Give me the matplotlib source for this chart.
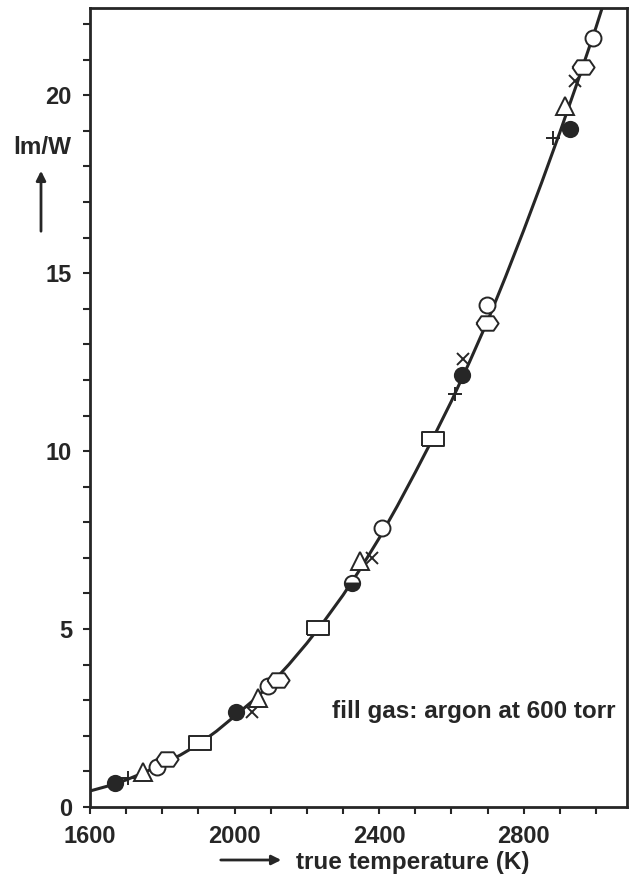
import numpy as np
import matplotlib
matplotlib.use('Agg')
import matplotlib.pyplot as plt
from matplotlib.ticker import MultipleLocator

# Efficacy curve (every 50 K)
curve_T = [1600, 1650, 1700, 1750, 1800, 1850, 1900, 1950, 2000, 2050,
           2100, 2150, 2200, 2250, 2300, 2350, 2400, 2450, 2500, 2550,
           2600, 2650, 2700, 2750, 2800, 2850, 2900, 2950, 3000, 3025]
curve_lm = [0.45, 0.59, 0.76, 0.97, 1.2, 1.46, 1.76, 2.13, 2.55, 2.98,
            3.45, 4.0, 4.6, 5.25, 5.95, 6.72, 7.55, 8.45, 9.4, 10.38,
            11.4, 12.5, 13.65, 14.9, 16.2, 17.55, 18.95, 20.4, 21.9, 22.7]

# Measured points, one list per symbol
dot_T = [1669, 2004, 2630, 2929]
dot_lm = [0.67, 2.66, 12.13, 19.05]
half_T = [2325]
half_lm = [6.3]
plus_T = [1705, 2610, 2882]
plus_lm = [0.81, 11.6, 18.8]
cross_T = [2048, 2380, 2633, 2942]
cross_lm = [2.66, 7.0, 12.6, 20.4]
tri_T = [1747, 2065, 2347, 2915]
tri_lm = [0.98, 3.05, 6.92, 19.7]
circ_T = [1785, 2093, 2408, 2699, 2992]
circ_lm = [1.12, 3.39, 7.84, 14.1, 21.6]
hexa_T = [1813, 2120, 2699, 2965]
hexa_lm = [1.34, 3.58, 13.6, 20.8]
rect_T = [1904, 2231, 2549]
rect_lm = [1.79, 5.04, 10.34]

ink = '#262626'
plt.rcParams['font.family'] = ['Liberation Sans', 'DejaVu Sans']
plt.rcParams['font.weight'] = 'bold'

rect_marker = [(-1.6, -1), (1.6, -1), (1.6, 1), (-1.6, 1), (-1.6, -1)]
hexa_marker = [(-1, 0), (-0.55, 0.65), (0.55, 0.65), (1, 0), (0.55, -0.65), (-0.55, -0.65), (-1, 0)]

fig = plt.figure(figsize=(6.29, 8.8), dpi=100)
ax = fig.add_axes([90/629, 73/880, 537/629, 799/880])

ax.plot(curve_T, curve_lm, color=ink, linewidth=2.2, zorder=2)

mk = dict(linestyle='none', markeredgecolor=ink, markeredgewidth=1.4, zorder=3)
ax.plot(dot_T, dot_lm, marker='o', markersize=11, markerfacecolor=ink, **mk)
ax.plot(half_T, half_lm, marker='o', markersize=11, markerfacecolor=ink,
        fillstyle='bottom', markerfacecoloralt='white', **mk)
ax.plot(plus_T, plus_lm, marker='+', markersize=10, **mk)
ax.plot(cross_T, cross_lm, marker='x', markersize=9, **mk)
ax.plot(tri_T, tri_lm, marker='^', markersize=13, markerfacecolor='white', **mk)
ax.plot(circ_T, circ_lm, marker='o', markersize=11.5, markerfacecolor='white', **mk)
ax.plot(hexa_T, hexa_lm, marker=hexa_marker, markersize=16, markerfacecolor='white', **mk)
ax.plot(rect_T, rect_lm, marker=rect_marker, markersize=16.5, markerfacecolor='white', **mk)

ax.set_xlim(1600, 3086)
ax.set_ylim(0, 22.45)
ax.xaxis.set_major_locator(MultipleLocator(400))
ax.xaxis.set_minor_locator(MultipleLocator(100))
ax.yaxis.set_major_locator(MultipleLocator(5))
ax.yaxis.set_minor_locator(MultipleLocator(1))
ax.tick_params(which='both', direction='out', length=5, width=1.5, color=ink)
ax.tick_params(which='major', labelsize=17, labelcolor=ink, pad=8)
for sp in ax.spines.values():
    sp.set_linewidth(2)
    sp.set_color(ink)

ax.text(0.978, 0.12, 'fill gas: argon at 600 torr', transform=ax.transAxes,
        ha='right', va='center', fontsize=17.5, color=ink)

# y label with upward arrow
fig.text(42/629, 1 - 147/880, 'lm/W', ha='center', va='center', fontsize=17.5, color=ink)
fig.patches.append(matplotlib.patches.FancyArrowPatch(
    (41/629, 1 - 234/880), (41/629, 1 - 168/880), transform=fig.transFigure,
    arrowstyle='-|>', mutation_scale=14, linewidth=2, color=ink))

# x label with rightward arrow
fig.text(296/629, 1 - 862/880, 'true temperature (K)', ha='left', va='center',
         fontsize=17.5, color=ink)
fig.patches.append(matplotlib.patches.FancyArrowPatch(
    (218/629, 1 - 860/880), (284/629, 1 - 860/880), transform=fig.transFigure,
    arrowstyle='-|>', mutation_scale=14, linewidth=2, color=ink))

fig.savefig('out.png', dpi=100)
